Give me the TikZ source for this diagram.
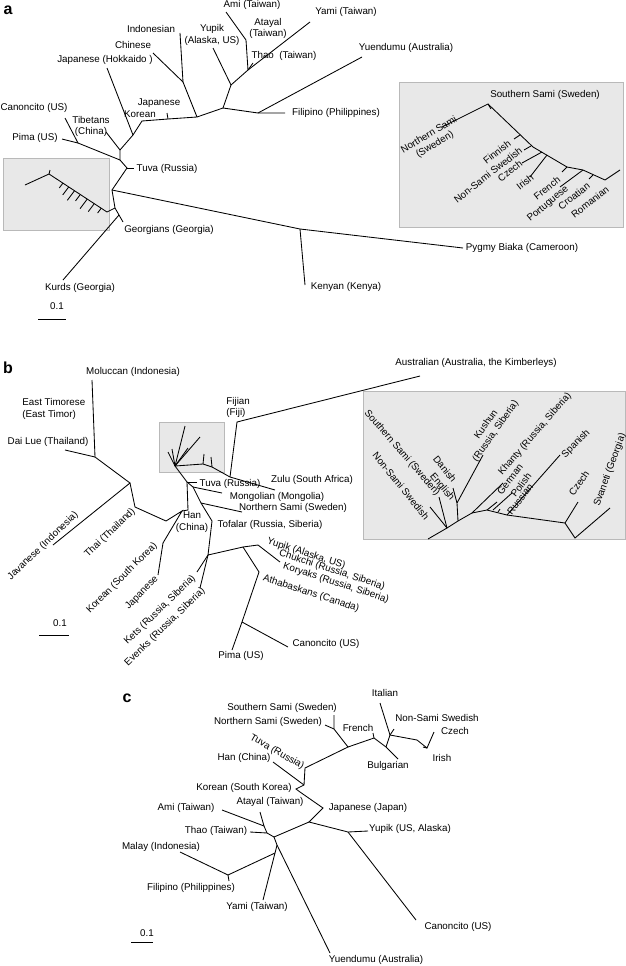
\documentclass[tikz,border=0pt]{standalone}
\usepackage{fontspec}
\setmainfont{Liberation Sans}
\usetikzlibrary{calc}
\definecolor{insetgray}{RGB}{232,232,232}
\definecolor{insetedge}{RGB}{185,185,185}
\begin{document}
\begin{tikzpicture}[x=1pt,y=-1pt,line width=0.85pt,
  lbl/.style={font=\fontsize{9.8}{11.5}\selectfont,inner sep=0pt},
  panel/.style={font=\fontsize{16}{16}\selectfont\bfseries,inner sep=0pt},
  inset/.style={fill=insetgray,draw=insetedge,line width=0.8pt}]
\useasboundingbox (0,0) rectangle (626,966);

% ================= PANEL A =================
\node[panel] (la) at (8,10) {a};
\draw[inset] (3,158) rectangle (109,230);
\draw[inset] (399,82) rectangle (623,227);

\coordinate (aYamiE) at (310,22);
\coordinate (aT1) at (231,85);
\coordinate (aT2) at (248,70);
\coordinate (aT3) at (246,40);
\coordinate (aAmiE) at (226,12);
\coordinate (aThaoE) at (253,63);
\coordinate (aYupE) at (213,48);
\coordinate (aN1) at (223,108);
\coordinate (aN2) at (258,113);
\coordinate (aFilE) at (285,113);
\coordinate (aYueE) at (362,57);
\coordinate (aN3) at (197,117);
\coordinate (aN4) at (183,82);
\coordinate (aIndE) at (180,33);
\coordinate (aChiE) at (153,53);
\coordinate (aJK) at (168,119);
\coordinate (aJKE) at (167,113);
\coordinate (aN5) at (142,121);
\coordinate (aN6) at (133,135);
\coordinate (aHokE) at (107,68);
\coordinate (aN7) at (120,150);
\coordinate (aTibE) at (106,132);
\coordinate (aN8) at (120,160);
\coordinate (aN9) at (78,143);
\coordinate (aCanE) at (65,118);
\coordinate (aPimE) at (62,139);
\coordinate (aN10) at (127,168);
\coordinate (aTuvE) at (134,168);
\coordinate (aN11) at (112,190);
\coordinate (aN12) at (300,229);
\coordinate (aPygE) at (463,248);
\coordinate (aKenE) at (305,285);
\coordinate (aN13) at (115,208);
\coordinate (aN14) at (119,215);
\coordinate (aGeoE) at (123,222);
\coordinate (aKurE) at (63,280);
\coordinate (aS0) at (107,212);
\coordinate (aS1) at (49,174);
\coordinate (aS2) at (25,185);
\coordinate (aS1t) at (50,170);

\draw (aYamiE) -- (aT2) -- (aT1);
\draw (aT2) -- (aT3) -- (aAmiE);
\draw (aT2) -- (aThaoE);
\draw (aYupE) -- (aT1) -- (aN1) -- (aN3);
\draw (aN1) -- (aN2) -- (aFilE);
\draw (aN2) -- (aYueE);
\draw (aN3) -- (aN4) -- (aIndE);
\draw (aN4) -- (aChiE);
\draw (aN3) -- (aJK) -- (aN5) -- (aN6) -- (aN7) -- (aN8) -- (aN10) -- (aN11) -- (aN13) -- (aN14) -- (aGeoE);
\draw (aJK) -- (aJKE);
\draw (aN6) -- (aHokE);
\draw (aN7) -- (aTibE);
\draw (aN8) -- (aN9) -- (aCanE);
\draw (aN9) -- (aPimE);
\draw (aN10) -- (aTuvE);
\draw (aN11) -- (aN12) -- (aPygE);
\draw (aN12) -- (aKenE);
\draw (aN14) -- (aKurE);
\draw (aN13) -- (aS0) -- (aS1) -- (aS2);
\draw (aS1) -- (aS1t);
\foreach \t/\l in {0.24/6,0.34/10,0.44/12,0.54/8,0.66/12,0.78/10,0.9/6}
  \draw ($(aS1)!\t!(aS0)$) -- ++(-0.6*\l,0.8*\l);

% inset a tree
\coordinate (aI0) at (442,127);
\coordinate (aI1) at (488,104);
\coordinate (aI1t) at (491,109);
\coordinate (aI2) at (533,147);
\coordinate (aI3) at (567,167);
\coordinate (aI4) at (583,170);
\coordinate (aI5) at (605,180);
\coordinate (aI6) at (620,170);
\draw (aI0) -- (aI1) -- (aI2) -- (aI3) -- (aI4) -- (aI5) -- (aI6);
\draw (aI1) -- (aI1t);
\coordinate (aFinN) at (520,135); \coordinate (aFinE) at (514,139);
\coordinate (aNSSN) at (531,146); \coordinate (aNSSE) at (524,150);
\coordinate (aCzeN) at (542,152); \coordinate (aCzeE) at (522,163);
\coordinate (aIriN) at (547,155); \coordinate (aIriE) at (530,177);
\coordinate (aFreE) at (562,172);
\coordinate (aPorE) at (560,187);
\coordinate (aCroN) at (593,175); \coordinate (aCroE) at (589,179);
\draw (aFinN) -- (aFinE);
\draw (aNSSN) -- (aNSSE);
\draw (aCzeN) -- (aCzeE);
\draw (aIriN) -- (aIriE);
\draw (aI3) -- (aFreE);
\draw (aI4) -- (aPorE);
\draw (aCroN) -- (aCroE);

\node[lbl] (tAmi) at (252,5) {Ami (Taiwan)};
\node[lbl,align=center] (tAtayal) at (268,28.5) {Atayal\\(Taiwan)};
\node[lbl,align=center] (tYupA) at (212,35) {Yupik\\(Alaska, US)};
\node[lbl] (tThao) at (284,56) {Thao~~(Taiwan)};
\node[lbl] (tYami) at (346,12) {Yami (Taiwan)};
\node[lbl] (tYuenA) at (406,48) {Yuendumu (Australia)};
\node[lbl] (tIndo) at (151,29) {Indonesian};
\node[lbl] (tChin) at (133,45) {Chinese};
\node[lbl] (tHok) at (105,60) {Japanese (Hokkaido )};
\node[lbl] (tJapA) at (159,103) {Japanese};
\node[lbl] (tKorA) at (140,114) {Korean};
\node[lbl] (tCanA) at (34,108) {Canoncito (US)};
\node[lbl,align=center] (tTib) at (91,126.5) {Tibetans\\(China)};
\node[lbl] (tPimA) at (35,138) {Pima (US)};
\node[lbl] (tTuvA) at (167,169) {Tuva (Russia)};
\node[lbl] (tFilA) at (336,113) {Filipino (Philippines)};
\node[lbl] (tGeo) at (169,230) {Georgians (Georgia)};
\node[lbl] (tKur) at (80,288) {Kurds (Georgia)};
\node[lbl] (tPyg) at (522,248) {Pygmy Biaka (Cameroon)};
\node[lbl] (tKen) at (346,287) {Kenyan (Kenya)};
\node[lbl] (tScaA) at (57,306) {0.1};
\coordinate (sa1) at (38,319); \coordinate (sa2) at (66,319);
\draw (sa1) -- (sa2);
\node[lbl] (tSSA) at (545,95) {Southern Sami (Sweden)};
\node[lbl,align=center,rotate=31] (tNSA) at (432,140) {Northern Sami\\(Sweden)};
\node[lbl,rotate=38] (tFin) at (497,152) {Finnish};
\node[lbl,rotate=38] (tNSSA) at (488,175) {Non-Sami Swedish};
\node[lbl,rotate=38] (tCzeA) at (510,171) {Czech};
\node[lbl,rotate=38] (tIriA) at (525,182) {Irish};
\node[lbl,rotate=38] (tFreA) at (547,188) {French};
\node[lbl,rotate=40] (tPor) at (548,204) {Portuguese};
\node[lbl,rotate=38] (tCro) at (574,196) {Croatian};
\node[lbl,rotate=38] (tRom) at (590,202) {Romanian};

% ================= PANEL B =================
\node[panel] (lb) at (8,368) {b};
\draw[inset] (159,422) rectangle (224,472);
\draw[inset] (363,391) rectangle (625,539);

\coordinate (bMolE) at (92,380);
\coordinate (bN1) at (95,457);
\coordinate (bDaiE) at (65,450);
\coordinate (bN2) at (130,483);
\coordinate (bJavE) at (53,545);
\coordinate (bN3) at (135,507);
\coordinate (bN4) at (166,521);
\coordinate (bH) at (182,511);
\coordinate (bH2) at (188,510);
\coordinate (bKorN) at (163,543);
\coordinate (bJapE) at (158,575);
\coordinate (bT) at (187,482);
\coordinate (bTuvE) at (197,482);
\coordinate (bS0) at (175,466);
\coordinate (bMonN) at (193,487); \coordinate (bMonE) at (222,493);
\coordinate (bNSN) at (201,503); \coordinate (bNSE) at (242,512);
\coordinate (bTof) at (212,521);
\coordinate (bN5) at (208,555);
\coordinate (bKetE) at (197,572);
\coordinate (bEveE) at (200,588);
\coordinate (bN6) at (243,547);
\coordinate (bYupE) at (258,545);
\coordinate (bChuE) at (280,562);
\coordinate (bN7) at (259,572);
\coordinate (bN8) at (242,622);
\coordinate (bPimE) at (232,650);
\coordinate (bCanE) at (288,647);
\coordinate (bZa) at (203,464);
\coordinate (bZb) at (212,467);
\coordinate (bZ1) at (230,477);
\coordinate (bZulE) at (275,490);
\coordinate (bFijN) at (237,422);
\coordinate (bAusE) at (420,376);

\draw (bMolE) -- (bN1) -- (bN2) -- (bJavE);
\draw (bDaiE) -- (bN1);
\draw (bN2) -- (bN3) -- (bN4) -- (bH) -- (bKorN) -- (bJapE);
\draw (bH) -- (bH2) -- (bT) -- (bS0);
\draw (bT) -- (bTuvE);
\draw (bT) -- (bMonN) -- (bNSN) -- (bTof) -- (bN5) -- (bN6) -- (bYupE) -- (bChuE);
\draw (bMonN) -- (bMonE);
\draw (bNSN) -- (bNSE);
\draw (bN5) -- (bKetE);
\draw (bN5) -- (bEveE);
\draw (bN6) -- (bN7) -- (bN8) -- (bPimE);
\draw (bN8) -- (bCanE);
\draw (bS0) -- (bZa) -- (bZb) -- (bZ1) -- (bZulE);
\draw (bZ1) -- (bFijN) -- (bAusE);
% small inset b branches
\coordinate (bs1) at (168,452); \coordinate (bs2) at (172,449);
\coordinate (bs3) at (185,426); \coordinate (bs4) at (188,448);
\coordinate (bs5) at (200,437); \coordinate (bs6) at (187,452);
\coordinate (bs7) at (204,454); \coordinate (bs8) at (211,457);
\draw (bS0) -- (bs1);
\draw (bS0) -- (bs2);
\draw (bS0) -- (bs3);
\draw (bS0) -- (bs4);
\draw (bS0) -- (bs5);
\draw ($(bS0)!0.5!(bs5)$) -- (bs6);
\draw (bZa) -- (bs7);
\draw (bZb) -- (bs8);

% inset b tree
\coordinate (bI0) at (428,539);
\coordinate (bI1) at (447,528);
\coordinate (bSSE) at (439,497);
\coordinate (bNSSE) at (430,507);
\coordinate (bI2) at (458,521);
\coordinate (bI3) at (457,503);
\coordinate (bDanE) at (453,488);
\coordinate (bKusE) at (483,455);
\coordinate (bI4) at (472,513);
\coordinate (bKhaE) at (503,483);
\coordinate (bI5) at (487,510);
\coordinate (bGerE) at (497,502);
\coordinate (bPolN) at (493,510);
\coordinate (bPolE) at (512,493);
\coordinate (bRusN) at (498,512);
\coordinate (bRusE) at (500,509);
\coordinate (bI6) at (507,515);
\coordinate (bSpaE) at (560,455);
\coordinate (bI7) at (565,523);
\coordinate (bCzeE) at (578,502);
\coordinate (bI8) at (575,538);
\coordinate (bSvaE) at (610,508);
\draw (bI0) -- (bI1) -- (bI2) -- (bI4) -- (bI5) -- (bI6) -- (bI7) -- (bI8) -- (bSvaE);
\draw (bI1) -- (bSSE);
\draw (bI1) -- (bNSSE);
\draw (bI2) -- (bI3) -- (bDanE);
\draw (bI3) -- (bKusE);
\draw (bI4) -- (bKhaE);
\draw (bI5) -- (bGerE);
\draw (bPolN) -- (bPolE);
\draw (bRusN) -- (bRusE);
\draw (bI6) -- (bSpaE);
\draw (bI7) -- (bCzeE);

\node[lbl] (tMol) at (133,372) {Moluccan (Indonesia)};
\node[lbl,align=left,anchor=west] (tETim) at (22,409) {East Timorese\\(East Timor)};
\node[lbl] (tDai) at (48,442) {Dai Lue (Thailand)};
\node[lbl,align=left,anchor=west] (tFij) at (226,407.5) {Fijian\\(Fiji)};
\node[lbl] (tAus) at (476,363) {Australian (Australia, the Kimberleys)};
\node[lbl] (tZul) at (312,480) {Zulu (South Africa)};
\node[lbl] (tTuvB) at (230,484) {Tuva (Russia)};
\node[lbl] (tMon) at (277,497) {Mongolian (Mongolia)};
\node[lbl] (tNSB) at (293,508) {Northern Sami (Sweden)};
\node[lbl,align=center] (tHanB) at (192,522) {Han\\(China)};
\node[lbl] (tTof) at (270,525) {Tofalar (Russia, Siberia)};
\node[lbl,rotate=44] (tJav) at (43,546) {Javanese (Indonesia)};
\node[lbl,rotate=44] (tThai) at (110,533) {Thai (Thailand)};
\node[lbl,rotate=45] (tKorB) at (122,578) {Korean (South Korea)};
\node[lbl,rotate=46] (tJapB) at (142,593) {Japanese};
\node[lbl,rotate=44] (tKet) at (160,610) {Kets (Russia, Siberia)};
\node[lbl,rotate=44] (tEve) at (165,627) {Evenks (Russia, Siberia)};
\node[lbl] (tScaB) at (60,623) {0.1};
\coordinate (sb1) at (39,635); \coordinate (sb2) at (69,635);
\draw (sb1) -- (sb2);
\node[lbl,rotate=-18,anchor=west] (tYupB) at (267,541) {Yupik (Alaska, US)};
\node[lbl,rotate=-18,anchor=west] (tChu) at (279,553) {Chukchi (Russia, Siberia)};
\node[lbl,rotate=-18,anchor=west] (tKor2) at (283,566) {Koryaks (Russia, Siberia)};
\node[lbl,rotate=-18,anchor=west] (tAth) at (263,578) {Athabaskans (Canada)};
\node[lbl] (tPimB) at (241,656) {Pima (US)};
\node[lbl] (tCanB) at (326,644) {Canoncito (US)};
\node[lbl,rotate=-49] (tSSB) at (402,453) {Southern Sami (Sweden)};
\node[lbl,rotate=-51] (tNSSB) at (401,486) {Non-Sami Swedish};
\node[lbl,rotate=-51] (tDan) at (445,469) {Danish};
\node[lbl,rotate=-50] (tEng) at (442,487) {English};
\node[lbl,align=center,rotate=55] (tKus) at (491,428) {Kushun\\(Russia, Siberia)};
\node[lbl,rotate=49] (tKha) at (535,434) {Khanty (Russia, Siberia)};
\node[lbl,rotate=52] (tGer) at (510,479) {German};
\node[lbl,rotate=52] (tPol) at (521,485) {Polish};
\node[lbl,rotate=52] (tRus) at (520,499) {Russian};
\node[lbl,rotate=45] (tSpa) at (576,444) {Spanish};
\node[lbl,rotate=55] (tCzeB) at (579,483) {Czech};
\node[lbl,rotate=70] (tSva) at (610,470) {Svaneti (Georgia)};

% ================= PANEL C =================
\node[panel] (lc) at (127,698) {c};
\coordinate (cSSE) at (334,715);
\coordinate (c1) at (334,729);
\coordinate (cNSE) at (325,725);
\coordinate (c2) at (348,747);
\coordinate (c3) at (305,768);
\coordinate (c4) at (304,785);
\coordinate (cHanE) at (273,762);
\coordinate (cKorE) at (296,789);
\coordinate (cKor2) at (300,792);
\coordinate (c5) at (323,808);
\coordinate (c6) at (309,822);
\coordinate (cYN) at (348,832);
\coordinate (cYupE) at (368,831);
\coordinate (cCanE) at (416,920);
\coordinate (c7) at (274,837);
\coordinate (cThN) at (267,833);
\coordinate (cThE) at (250,832);
\coordinate (c8) at (264,826);
\coordinate (cAmiE) at (222,810);
\coordinate (cAtaE) at (260,812);
\coordinate (c9) at (277,845);
\coordinate (cYueE) at (330,953);
\coordinate (c10) at (275,853);
\coordinate (cYamE) at (263,900);
\coordinate (c11) at (228,875);
\coordinate (cMalE) at (180,852);
\coordinate (cFilE) at (229,881);
\coordinate (c12) at (374,738);
\coordinate (cFreE) at (373,733);
\coordinate (c13) at (386,747);
\coordinate (cBulE) at (398,759);
\coordinate (c14) at (390,735);
\coordinate (cItaE) at (380,703);
\coordinate (cNSSE) at (394,729);
\coordinate (c15a) at (417,740);
\coordinate (c15) at (427,748);
\coordinate (cCzeE) at (434,732);
\coordinate (cIriE) at (423,747);

\draw (cSSE) -- (c1) -- (c2) -- (c3) -- (c4) -- (cKorE) -- (cKor2) -- (c5) -- (c6) -- (cYN) -- (cYupE);
\draw (cNSE) -- (c1);
\draw (c4) -- (cHanE);
\draw (cYN) -- (cCanE);
\draw (c6) -- (c7) -- (cThN) -- (cThE);
\draw (cThN) -- (c8) -- (cAmiE);
\draw (c8) -- (cAtaE);
\draw (c7) -- (c9) -- (cYueE);
\draw (c9) -- (c10) -- (cYamE);
\draw (c10) -- (c11) -- (cMalE);
\draw (c11) -- (cFilE);
\draw (c2) -- (c12) -- (c13) -- (cBulE);
\draw (c12) -- (cFreE);
\draw (c13) -- (c14) -- (cItaE);
\draw (c14) -- (cNSSE);
\draw (c14) -- (c15a) -- (c15) -- (cCzeE);
\draw (c15) -- (cIriE);

\node[lbl] (tIta) at (385,693) {Italian};
\node[lbl] (tSSC) at (282,708) {Southern Sami (Sweden)};
\node[lbl] (tNSC) at (268,722) {Northern Sami (Sweden)};
\node[lbl] (tFreC) at (358,728) {French};
\node[lbl] (tNSSC) at (437,718) {Non-Sami Swedish};
\node[lbl] (tCzeC) at (455,731) {Czech};
\node[lbl,rotate=-30] (tTuvC) at (277,752) {Tuva (Russia)};
\node[lbl] (tHanC) at (244,758) {Han (China)};
\node[lbl] (tBul) at (388,766) {Bulgarian};
\node[lbl] (tIriC) at (442,758) {Irish};
\node[lbl] (tKorC) at (244,788) {Korean (South Korea)};
\node[lbl] (tJapC) at (368,808) {Japanese (Japan)};
\node[lbl] (tAmiC) at (186,808) {Ami (Taiwan)};
\node[lbl] (tAtaC) at (270,802) {Atayal (Taiwan)};
\node[lbl] (tThaC) at (216,831) {Thao (Taiwan)};
\node[lbl] (tMal) at (161,847) {Malay (Indonesia)};
\node[lbl] (tFilC) at (191,888) {Filipino (Philippines)};
\node[lbl] (tYamC) at (257,907) {Yami (Taiwan)};
\node[lbl] (tYupC) at (410,829) {Yupik (US, Alaska)};
\node[lbl] (tCanC) at (458,927) {Canoncito (US)};
\node[lbl] (tYueC) at (376,960) {Yuendumu (Australia)};
\node[lbl] (tScaC) at (147,933) {0.1};
\coordinate (sc1) at (131,942); \coordinate (sc2) at (153,942);
\draw (sc1) -- (sc2);
\end{tikzpicture}
\end{document}
